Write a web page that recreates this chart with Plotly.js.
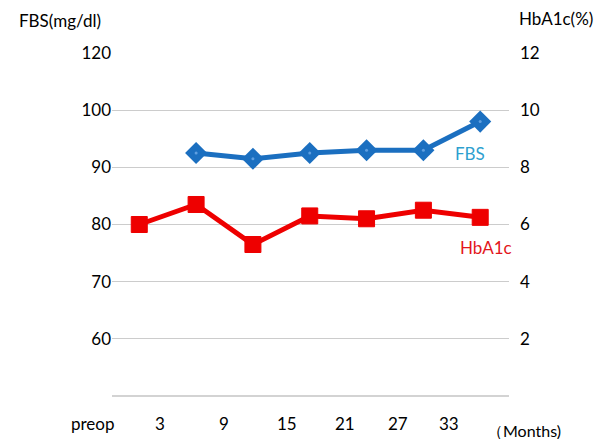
<!DOCTYPE html>
<html>
<head>
<meta charset="utf-8">
<script src="https://cdn.plot.ly/plotly-3.0.1.min.js"></script>
<style>html,body{margin:0;padding:0;background:#fff;}#chart{width:600px;height:439px;}</style>
</head>
<body>
<div id="chart"></div>
<script>
// Months after surgery (preop = 0)
const fbsMonths = [6, 12, 18, 24, 30, 36];
const fbsValues = [92.5, 91.5, 92.5, 93, 93, 98];
const hbMonths = [0, 6, 12, 18, 24, 30, 36];
const hbValues = [6.0, 6.7, 5.3, 6.3, 6.2, 6.5, 6.25];

const leftTickVals = [60, 70, 80, 90, 100, 110];
const leftTickText = ['60', '70', '80', '90', '100', '120'];
const rightTickVals = [2, 4, 6, 8, 10, 12];
const xTickLabels = ['preop', '3', '9', '15', '21', '27', '33'];
// label centres as fractions of the plot width (layout positions)
const xTickPos = [-0.049, 0.121, 0.282, 0.441, 0.587, 0.720, 0.849];

const FONT = 'Lato, "Noto Sans", sans-serif';

const traces = [
  {
    x: fbsMonths, y: fbsValues, type: 'scatter', mode: 'lines+markers',
    line: {color: '#1b6fc0', width: 5},
    marker: {symbol: 'diamond', size: 17, color: '#1b6fc0'},
    yaxis: 'y', hoverinfo: 'skip', cliponaxis: false
  },
  {
    x: fbsMonths, y: fbsValues, type: 'scatter', mode: 'markers',
    marker: {symbol: 'circle', size: 3, color: '#5f9fe0'},
    yaxis: 'y', hoverinfo: 'skip', cliponaxis: false
  },
  {
    x: hbMonths, y: hbValues, type: 'scatter', mode: 'lines+markers',
    line: {color: '#ee0000', width: 5},
    marker: {symbol: 'square', size: 16, color: '#ee0000', line: {color: '#ee0000', width: 1}},
    yaxis: 'y2', hoverinfo: 'skip', cliponaxis: false
  }
];

const annotations = xTickLabels.map((t, i) => ({
  x: xTickPos[i], xref: 'paper', y: -0.045, yref: 'paper',
  text: t, showarrow: false, xanchor: 'center', yanchor: 'top',
  font: {family: FONT, size: 17, color: '#000'}
}));
annotations.push(
  {xref: 'paper', yref: 'paper', x: -0.24, y: 1.095, text: 'FBS(mg/dl)', showarrow: false,
   xanchor: 'left', yanchor: 'middle', font: {family: FONT, size: 17, color: '#000'}},
  {xref: 'paper', yref: 'paper', x: 1.02, y: 1.1, text: 'HbA1c(%)', showarrow: false,
   xanchor: 'left', yanchor: 'middle', font: {family: FONT, size: 17, color: '#000'}},
  {xref: 'paper', yref: 'paper', x: 0.94, y: -0.1, text: '（Months)', showarrow: false,
   xanchor: 'left', yanchor: 'middle', font: {family: FONT, size: 16, color: '#000'}},
  {xref: 'x', yref: 'y', x: 34.9, y: 92.5, text: 'FBS', showarrow: false,
   xanchor: 'center', yanchor: 'middle', font: {family: FONT, size: 17, color: '#2e9fcf'}},
  {xref: 'x', yref: 'y', x: 36.6, y: 76, text: 'HbA1c', showarrow: false,
   xanchor: 'center', yanchor: 'middle', font: {family: FONT, size: 17, color: '#e3161b'}}
);

const layout = {
  width: 600, height: 439,
  margin: {l: 112, r: 91, t: 53, b: 43},
  paper_bgcolor: '#fff', plot_bgcolor: '#fff',
  showlegend: false,
  font: {family: FONT, size: 17, color: '#000'},
  xaxis: {
    range: [-2.88, 39.04], showgrid: false, zeroline: false,
    showticklabels: false, ticks: '', showline: false, fixedrange: true
  },
  yaxis: {
    range: [50, 110], tickvals: leftTickVals, ticktext: leftTickText,
    showgrid: true, gridcolor: '#cccccc', gridwidth: 1.3,
    zeroline: false, showline: false, ticks: '',
    tickfont: {family: FONT, size: 17, color: '#000'}
  },
  yaxis2: {
    range: [0, 12], overlaying: 'y', side: 'right',
    tickvals: rightTickVals, showgrid: false, zeroline: false, showline: false, ticks: '',
    ticklabelstandoff: 10,
    tickfont: {family: FONT, size: 17, color: '#000'}
  },
  shapes: [
    {type: 'line', xref: 'paper', yref: 'paper', x0: 0, x1: 1, y0: 0, y1: 0,
     line: {color: '#c4c4c4', width: 1.3}}
  ],
  annotations: annotations
};

Plotly.newPlot('chart', traces, layout, {displayModeBar: false, staticPlot: true});
</script>
</body>
</html>
